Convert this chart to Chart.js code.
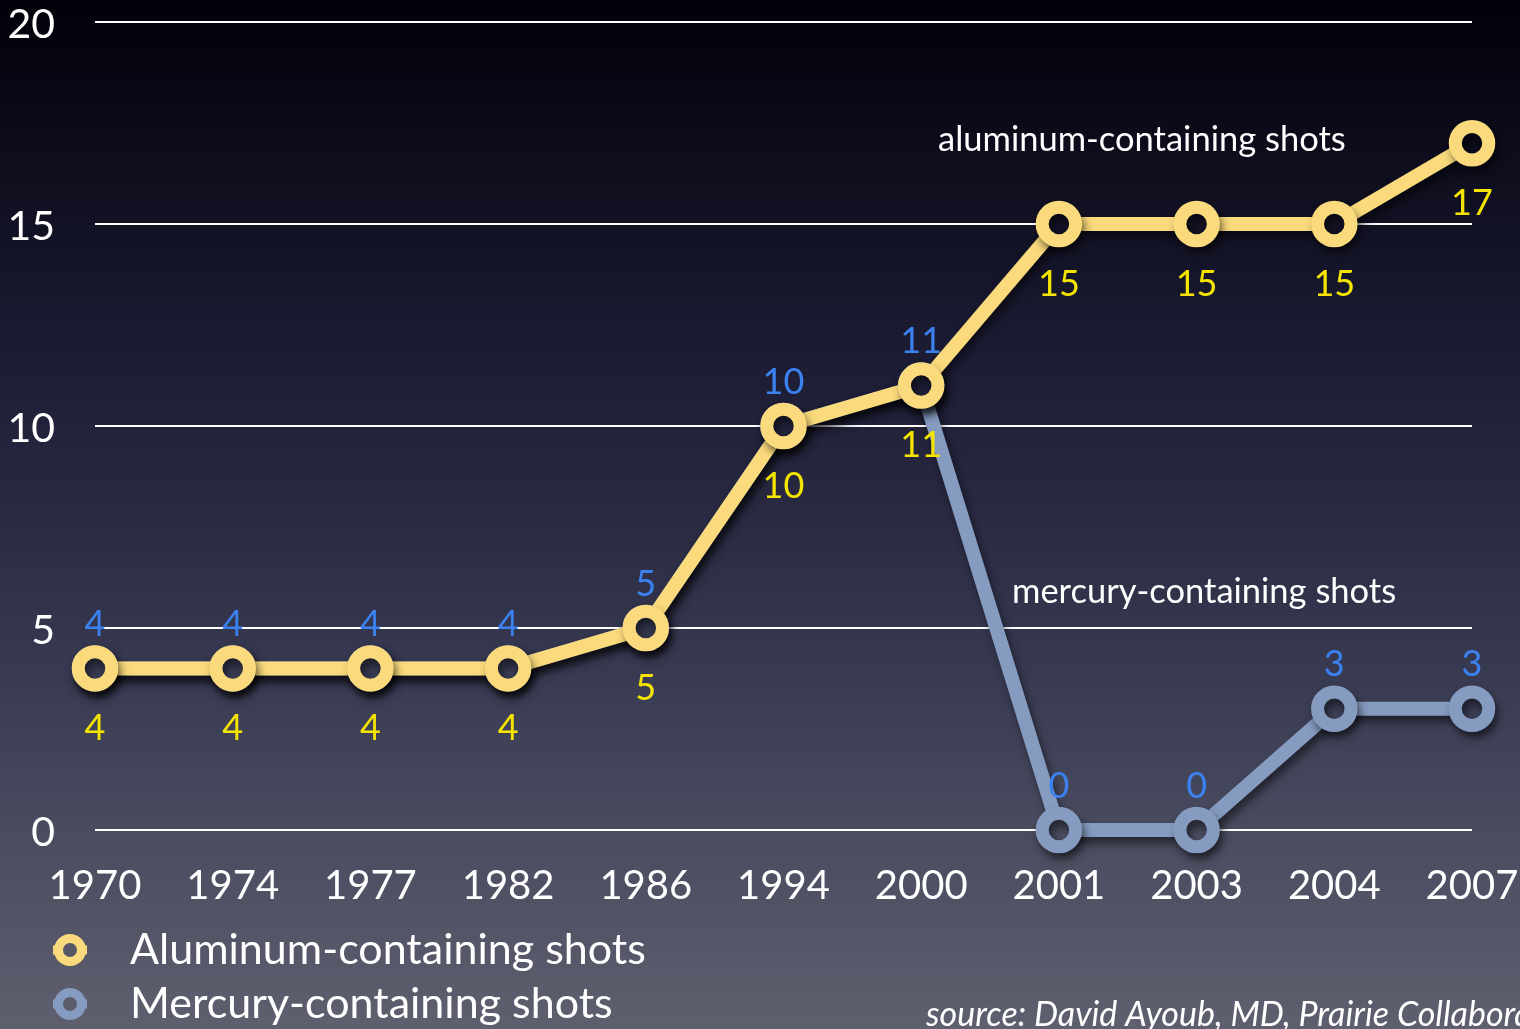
<!DOCTYPE html>
<html>
<head>
<meta charset="utf-8">
<script src="https://cdn.jsdelivr.net/npm/chart.js@4.4.1/dist/chart.umd.min.js"></script>
<style>
  html, body { margin: 0; padding: 0; background: #000; }
  #wrap { width: 1520px; height: 1029px; }
</style>
</head>
<body>
<div id="wrap"><canvas id="myChart" width="1520" height="1029"></canvas></div>
<script>
// data
var years = ['1970', '1974', '1977', '1982', '1986', '1994', '2000', '2001', '2003', '2004', '2007'];
var aluminum = [4, 4, 4, 4, 5, 10, 11, 15, 15, 15, 17];
var mercury = [4, 4, 4, 4, 5, 10, 11, 0, 0, 3, 3];
var yTicks = [0, 5, 10, 15, 20];

var seriesNames = ['Aluminum-containing shots', 'Mercury-containing shots'];
var noteAluminum = 'aluminum-containing shots';
var noteMercury = 'mercury-containing shots';
var sourceText = 'source: David Ayoub, MD, Prairie Collaborative';

var FONT = 'Lato, "Open Sans", sans-serif';
var yellow = 'rgb(250, 218, 124)';
var steel = 'rgb(134, 155, 192)';

var canvas = document.getElementById('myChart');
var ctx = canvas.getContext('2d');

// background gradient, reused for the marker holes
var bg = ctx.createLinearGradient(0, 0, 0, 1029);
bg.addColorStop(0, '#01010a');
bg.addColorStop(0.35, '#1c1c34');
bg.addColorStop(0.65, '#383a52');
bg.addColorStop(1, '#5e606f');

var bgPlugin = {
  id: 'bg',
  beforeDraw: function (chart) {
    var c = chart.ctx;
    c.save();
    c.fillStyle = bg;
    c.fillRect(0, 0, chart.width, chart.height);
    c.restore();
  }
};

var shadowPlugin = {
  id: 'shadow',
  beforeDatasetDraw: function (chart) {
    var c = chart.ctx;
    c.save();
    c.shadowColor = 'rgba(0,0,0,0.5)';
    c.shadowBlur = 9;
    c.shadowOffsetX = 3;
    c.shadowOffsetY = 6;
  },
  afterDatasetDraw: function (chart) {
    chart.ctx.restore();
  }
};

function legendMark(c, x, y, color) {
  c.beginPath();
  c.moveTo(x - 17, y);
  c.lineTo(x + 17, y);
  c.lineWidth = 9;
  c.strokeStyle = color;
  c.stroke();
  c.beginPath();
  c.arc(x, y, 11.5, 0, Math.PI * 2);
  c.fillStyle = bg;
  c.fill();
  c.lineWidth = 9;
  c.stroke();
}

var labelPlugin = {
  id: 'labels',
  afterDatasetsDraw: function (chart) {
    var c = chart.ctx;
    c.save();
    c.font = '36px ' + FONT;
    c.textAlign = 'center';
    c.textBaseline = 'middle';
    // yellow values under the aluminum points
    chart.getDatasetMeta(0).data.forEach(function (pt, i) {
      c.fillStyle = '#f5e400';
      c.fillText(aluminum[i], pt.x, pt.y + 60);
    });
    // blue values over the mercury points
    chart.getDatasetMeta(1).data.forEach(function (pt, i) {
      c.fillStyle = '#3b82f0';
      c.fillText(mercury[i], pt.x, pt.y - 44);
    });

    // series notes
    c.fillStyle = '#ffffff';
    c.font = '34.5px ' + FONT;
    c.textAlign = 'left';
    c.fillText(noteAluminum, 938, 140);
    c.fillText(noteMercury, 1012, 592);

    // legend
    legendMark(c, 70, 950, yellow);
    legendMark(c, 70, 1004, steel);
    c.font = '43px ' + FONT;
    c.fillStyle = '#ffffff';
    c.fillText(seriesNames[0], 130, 950);
    c.fillText(seriesNames[1], 130, 1004);

    // source
    c.font = 'italic 34px ' + FONT;
    c.textBaseline = 'alphabetic';
    c.fillText(sourceText, 926, 1026);
    c.restore();
  }
};

var chart = new Chart(ctx, {
  type: 'line',
  data: {
    labels: years,
    datasets: [{
      label: seriesNames[0],
      data: aluminum,
      borderColor: yellow,
      borderWidth: 14,
      pointRadius: 16.75,
      pointBorderWidth: 13,
      pointBorderColor: yellow,
      pointBackgroundColor: bg,
      tension: 0
    }, {
      label: seriesNames[1],
      data: mercury,
      borderColor: steel,
      borderWidth: 14,
      pointRadius: 16.75,
      pointBorderWidth: 13,
      pointBorderColor: steel,
      pointBackgroundColor: bg,
      tension: 0
    }]
  },
  options: {
    responsive: false,
    animation: false,
    clip: false,
    layout: { autoPadding: false, padding: { top: 22, right: 48, bottom: 0, left: 0 } },
    plugins: {
      legend: { display: false },
      tooltip: { enabled: false }
    },
    scales: {
      x: {
        offset: false,
        grid: { display: false },
        border: { display: false },
        ticks: {
          color: '#ffffff',
          font: { family: FONT, size: 40 },
          padding: 24,
          maxRotation: 0,
          autoSkip: false
        },
        afterFit: function (scale) {
          scale.height = 199;
          scale.paddingLeft = 0;
          scale.paddingRight = 0;
        }
      },
      y: {
        min: 0,
        max: 20,
        afterBuildTicks: function (scale) {
          scale.ticks = yTicks.map(function (v) { return { value: v }; });
        },
        grid: { color: '#ffffff', lineWidth: 2, drawTicks: false },
        border: { display: false },
        ticks: {
          color: '#ffffff',
          font: { family: FONT, size: 41 },
          padding: 40,
          labelOffset: 3
        },
        afterFit: function (scale) {
          scale.width = 95;
          scale.paddingTop = 0;
          scale.paddingBottom = 0;
        }
      }
    }
  },
  plugins: [bgPlugin, shadowPlugin, labelPlugin]
});
</script>
</body>
</html>
